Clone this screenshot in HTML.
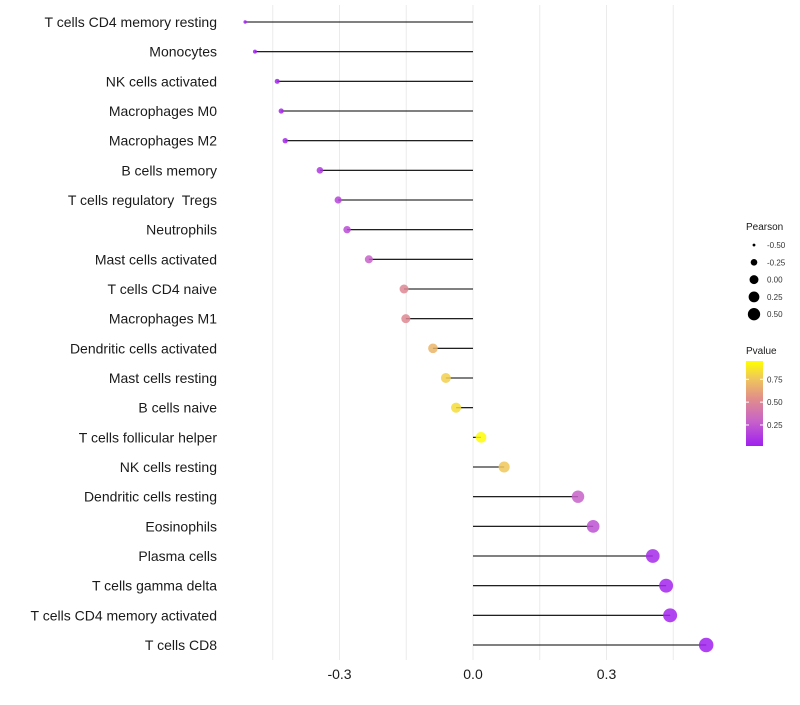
<!DOCTYPE html>
<html><head><meta charset="utf-8"><style>
body{margin:0;background:#fff;font-family:"Liberation Sans",sans-serif}
text{white-space:pre}
</style></head><body>
<svg id="chart" width="800" height="700" xmlns="http://www.w3.org/2000/svg" font-family="Liberation Sans, sans-serif"></svg>
<script>
const categories=["T cells CD4 memory resting","Monocytes","NK cells activated","Macrophages M0","Macrophages M2","B cells memory","T cells regulatory  Tregs","Neutrophils","Mast cells activated","T cells CD4 naive","Macrophages M1","Dendritic cells activated","Mast cells resting","B cells naive","T cells follicular helper","NK cells resting","Dendritic cells resting","Eosinophils","Plasma cells","T cells gamma delta","T cells CD4 memory activated","T cells CD8"];
const pearson=[-0.512,-0.49,-0.44,-0.431,-0.422,-0.344,-0.303,-0.283,-0.234,-0.155,-0.151,-0.09,-0.061,-0.038,0.018,0.07,0.236,0.27,0.404,0.434,0.443,0.524];
const pvalue=[0.01,0.02,0.04,0.05,0.05,0.12,0.17,0.2,0.29,0.5,0.51,0.69,0.79,0.83,0.94,0.76,0.29,0.22,0.06,0.04,0.04,0.01];
const xTicks=[-0.3,0,0.3];
const xTickLabels=["-0.3","0.0","0.3"];
const sizeLegend=[-0.5,-0.25,0,0.25,0.5];
const sizeLegendLabels=["-0.50","-0.25","0.00","0.25","0.50"];
const colorTicks=[0.25,0.5,0.75];
const colorTickLabels=["0.25","0.50","0.75"];

const NS="http://www.w3.org/2000/svg";
const svg=document.getElementById('chart');
function mk(t,a,p){const e=document.createElementNS(NS,t);for(const k in a)e.setAttribute(k,a[k]);(p||svg).appendChild(e);return e;}
const x=v=>473+v*445;
const y=i=>22+i*(623/21);
const r=v=>Math.sqrt(Math.max(1,2.5+(v+0.52)*48));
const rl=v=>Math.sqrt(2.25+(v+0.5)*(42-2.25));
const stops=[[0,[160,32,240]],[0.3,[200,100,200]],[0.55,[225,140,140]],[0.8,[240,200,90]],[1,[255,255,0]]];
function col(p){const t=Math.max(0,Math.min(1,(p-0.02)/0.93));for(let i=1;i<stops.length;i++){if(t<=stops[i][0]){const a=stops[i-1],b=stops[i],f=(t-a[0])/(b[0]-a[0]);const c=a[1].map((v,j)=>Math.round(v+(b[1][j]-v)*f));return `rgb(${c})`;}}return 'rgb(255,255,0)';}

for(let g=-0.45;g<=0.46;g+=0.15){
  const gl=mk('line',{x1:x(g),x2:x(g),y1:5,y2:660,stroke:'#ebebeb','stroke-width':1});
  
  
}
categories.forEach((c,i)=>{
  const t=mk('text',{x:217,y:y(i)+5,'text-anchor':'end','font-size':14,fill:'#1a1a1a'});t.textContent=c;
  
  
  const l=mk('line',{x1:x(0),x2:x(pearson[i]),y1:y(i),y2:y(i),stroke:'#000','stroke-width':1.1});
  
  
  const d=mk('circle',{cx:x(pearson[i]),cy:y(i),r:r(pearson[i]),fill:col(pvalue[i]),'fill-opacity':0.85});
  
  
});
xTicks.forEach((v,i)=>{
  const t=mk('text',{x:x(v),y:679,'text-anchor':'middle','font-size':14,fill:'#1a1a1a'});t.textContent=xTickLabels[i];
  
  
});
const st=mk('text',{x:746,y:230,'font-size':10,fill:'#1a1a1a'});st.textContent='Pearson';


sizeLegend.forEach((v,i)=>{
  const cy=245+i*17.3;
  const c=mk('circle',{cx:754,cy:cy,r:rl(v)*0.95,fill:'#000'});
  
  
  const t=mk('text',{x:767,y:cy+3,'font-size':8,fill:'#333'});t.textContent=sizeLegendLabels[i];
  
  
});
const ct=mk('text',{x:746,y:354,'font-size':10,fill:'#1a1a1a'});ct.textContent='Pvalue';


const defs=mk('defs',{});const lg=mk('linearGradient',{id:'pg',x1:0,y1:1,x2:0,y2:0},defs);
stops.forEach(s=>mk('stop',{offset:s[0],'stop-color':`rgb(${s[1]})`},lg));
const bar=mk('rect',{x:746,y:361,width:17,height:85,fill:'url(#pg)'});


const cy=v=>446-(v-0.02)/0.93*85;
colorTicks.forEach((v,i)=>{
  mk('line',{x1:746,x2:749,y1:cy(v),y2:cy(v),stroke:'#fff'});
  mk('line',{x1:760,x2:763,y1:cy(v),y2:cy(v),stroke:'#fff'});
  const t=mk('text',{x:767,y:cy(v)+3,'font-size':8,fill:'#333'});t.textContent=colorTickLabels[i];
  
  
});
</script>
</body></html>
